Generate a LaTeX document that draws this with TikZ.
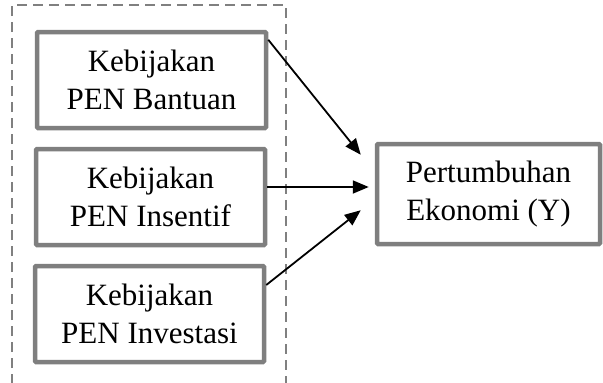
\documentclass[tikz,border=0pt]{standalone}
\usepackage{fontspec}
\setmainfont{Liberation Serif}
\usetikzlibrary{arrows.meta}
\definecolor{frm}{HTML}{7F7F7F}
\definecolor{grp}{HTML}{808080}
\tikzset{
  box/.style={draw=frm,line width=4.5pt,rounded corners=1pt,fill=white,align=center,inner sep=0pt,
    minimum width=229pt,minimum height=96pt,font=\fontsize{31}{38}\selectfont},
  grpline/.style={draw=grp,line width=2.4pt,dash pattern=on 10pt off 6pt},
  ar/.style={-{Triangle[length=16pt,width=13pt]},line width=1.8pt,draw=black},
}
\begin{document}
\begin{tikzpicture}[x=1pt,y=-1pt]
\useasboundingbox (0,0) rectangle (603,383);
% group frame
\coordinate (gl) at (12,384);
\coordinate (gr) at (286,384);
\draw[grpline] (gl) |- (286,5) -- (gr);
% inputs
\node[box] (bantuan) at (151.5,80) {Kebijakan\\PEN Bantuan};
\node[box] (insentif) at (150.5,197) {Kebijakan\\PEN Insentif};
\node[box] (investasi) at (149.5,314) {Kebijakan\\PEN Investasi};
% output
\node[box,minimum width=223pt,minimum height=100pt] (tumbuh) at (488.5,194) {Pertumbuhan\\Ekonomi (Y)};
% arrows
\draw[ar] ([yshift=-10pt]bantuan.north east) -- ([xshift=-14pt,yshift=-13pt]tumbuh.north west);
\draw[ar] ([yshift=10pt]insentif.east) -- ([xshift=-6pt,yshift=7pt]tumbuh.west);
\draw[ar] ([yshift=29pt]investasi.east) -- ([xshift=-14pt,yshift=36pt]tumbuh.south west);
\end{tikzpicture}
\end{document}
